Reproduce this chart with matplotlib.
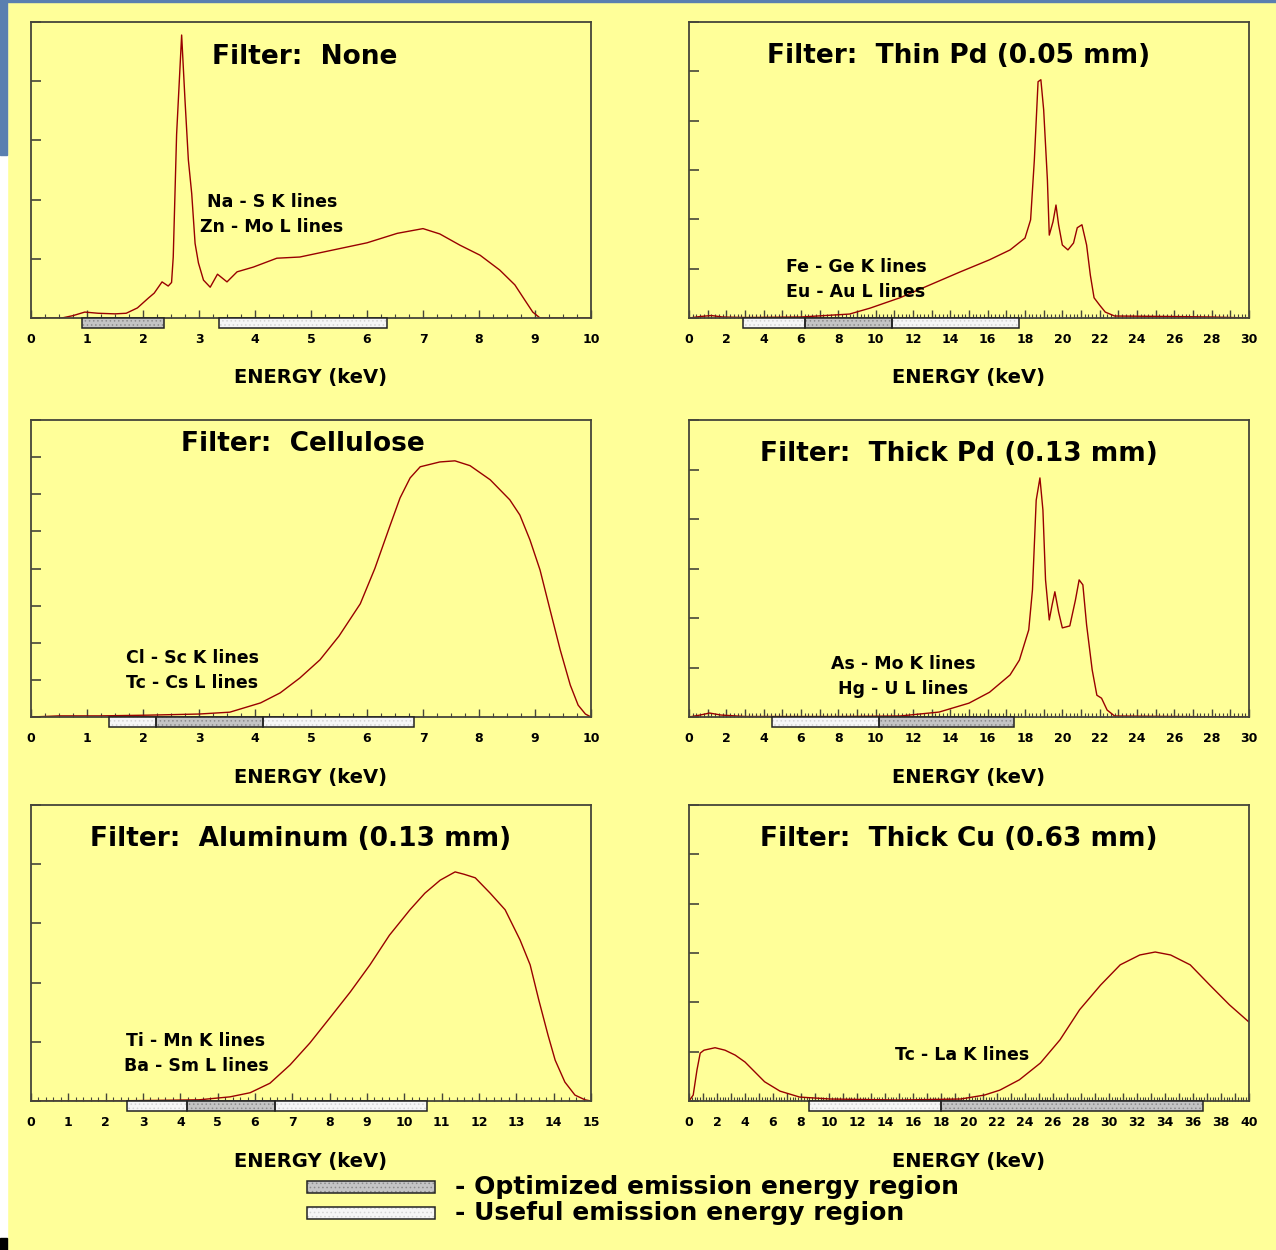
import matplotlib
matplotlib.use("Agg")
import matplotlib.pyplot as plt
from matplotlib.patches import Rectangle
from matplotlib.ticker import MultipleLocator, FuncFormatter

# ---- data (energy in keV, counts in y-tick units) ----
none_e = [0.0, 0.55, 0.75, 0.96, 1.2, 1.5, 1.7, 1.9, 2.1, 2.2, 2.34, 2.45, 2.51, 2.54,
          2.6, 2.69, 2.75, 2.81, 2.87, 2.93, 2.99, 3.08, 3.2, 3.33, 3.5, 3.68, 3.97,
          4.39, 4.8, 5.4, 6.0, 6.54, 7.0, 7.3, 7.66, 8.02, 8.37, 8.64, 8.82, 8.96,
          9.09, 10.0]
none_c = [0.0, 0.0, 0.04, 0.1, 0.08, 0.07, 0.08, 0.17, 0.34, 0.42, 0.61, 0.54, 0.6, 1.03,
          3.1, 4.78, 3.68, 2.67, 2.1, 1.26, 0.93, 0.64, 0.52, 0.74, 0.61, 0.78, 0.86,
          1.01, 1.03, 1.15, 1.27, 1.43, 1.51, 1.42, 1.23, 1.06, 0.81, 0.56, 0.3, 0.1,
          0.0, 0.0]

thinpd_e = [0.0, 0.6, 1.2, 1.8, 3.0, 6.0, 8.6, 9.7, 11.3, 12.9, 14.5, 16.1, 17.2, 18.0,
            18.3, 18.5, 18.7, 18.85, 19.0, 19.2, 19.3, 19.5, 19.66, 19.8, 20.0, 20.3,
            20.6, 20.8, 21.05, 21.3, 21.5, 21.7, 22.0, 22.3, 22.8, 26.0, 28.0, 30.0]
thinpd_c = [0.0, 0.03, 0.05, 0.02, 0.01, 0.02, 0.08, 0.2, 0.41, 0.67, 0.93, 1.18, 1.38, 1.62,
            1.99, 3.2, 4.79, 4.83, 4.22, 2.8, 1.68, 1.95, 2.29, 1.89, 1.48, 1.38,
            1.52, 1.83, 1.89, 1.48, 0.87, 0.41, 0.26, 0.12, 0.04, 0.03, 0.02, 0.0]

cell_e = [0.0, 0.5, 1.23, 2.1, 3.0, 3.55, 4.1, 4.45, 4.8, 5.16, 5.5, 5.88, 6.14, 6.41,
          6.59, 6.77, 6.95, 7.3, 7.57, 7.84, 8.2, 8.55, 8.73, 8.91, 9.09, 9.27, 9.45,
          9.63, 9.77, 9.9, 10.0]
cell_c = [0.0, 0.03, 0.03, 0.05, 0.08, 0.13, 0.38, 0.65, 1.05, 1.54, 2.18, 3.05, 4.0, 5.15,
          5.9, 6.44, 6.74, 6.87, 6.9, 6.77, 6.39, 5.85, 5.44, 4.77, 3.96, 2.88, 1.81,
          0.86, 0.32, 0.08, 0.0]

thickpd_e = [0.0, 0.6, 1.1, 1.7, 3.0, 8.0, 11.3, 13.4, 15.0, 16.1, 17.2, 17.7, 18.2, 18.4,
             18.6, 18.8, 18.96, 19.1, 19.3, 19.45, 19.6, 19.8, 20.0, 20.4, 20.7, 20.9,
             21.1, 21.3, 21.6, 21.85, 22.1, 22.4, 22.8, 26.0, 30.0]
thickpd_c = [0.0, 0.04, 0.08, 0.04, 0.01, 0.01, 0.02, 0.1, 0.28, 0.5, 0.85, 1.15, 1.76, 2.57,
             4.38, 4.83, 4.18, 2.77, 1.96, 2.26, 2.53, 2.12, 1.8, 1.84, 2.36, 2.77,
             2.67, 1.86, 0.95, 0.44, 0.38, 0.14, 0.02, 0.01, 0.0]

alu_e = [0.0, 2.0, 4.5, 5.33, 5.87, 6.4, 6.94, 7.47, 8.0, 8.55, 9.08, 9.6, 10.15, 10.55,
         10.96, 11.36, 11.6, 11.9, 12.3, 12.7, 13.1, 13.37, 13.6, 13.85, 14.04, 14.3,
         14.57, 14.84, 15.0]
alu_c = [0.0, 0.0, 0.02, 0.07, 0.14, 0.3, 0.61, 0.98, 1.4, 1.84, 2.3, 2.8, 3.23, 3.51,
         3.73, 3.87, 3.83, 3.77, 3.51, 3.23, 2.72, 2.3, 1.71, 1.11, 0.69, 0.32,
         0.1, 0.02, 0.0]

cu_e = [0.0, 0.3, 0.57, 0.8, 1.07, 1.86, 2.57, 3.3, 4.0, 4.7, 5.4, 6.5, 7.9, 10.1, 15.0,
        19.4, 21.1, 22.2, 23.6, 25.1, 26.5, 27.9, 29.4, 30.8, 32.2, 33.3, 34.4, 35.8,
        37.2, 38.6, 40.0]
cu_c = [0.0, 0.12, 0.63, 0.97, 1.03, 1.08, 1.03, 0.93, 0.79, 0.59, 0.39, 0.2, 0.08, 0.04, 0.02,
        0.04, 0.12, 0.22, 0.43, 0.77, 1.24, 1.85, 2.35, 2.76, 2.96, 3.02, 2.96, 2.76,
        2.35, 1.95, 1.6]

# bars under the axis: (start, end) in keV
useful = [[(3.36, 6.36)], [(2.9, 6.2), (10.9, 17.7)], [(1.40, 2.23), (4.14, 6.84)],
          [(4.45, 10.2)], [(2.57, 4.18), (6.54, 10.6)], [(8.57, 18.0)]]
optimized = [[(0.91, 2.38)], [(6.2, 10.9)], [(2.23, 4.14)],
             [(10.2, 17.4)], [(4.18, 6.54)], [(18.0, 36.7)]]

titles = ["Filter:  None", "Filter:  Thin Pd (0.05 mm)", "Filter:  Cellulose",
          "Filter:  Thick Pd (0.13 mm)", "Filter:  Aluminum (0.13 mm)",
          "Filter:  Thick Cu (0.63 mm)"]
notes = [["Na - S K lines", "Zn - Mo L lines"], ["Fe - Ge K lines", "Eu - Au L lines"],
         ["Cl - Sc K lines", "Tc - Cs L lines"], ["As - Mo K lines", "Hg - U L lines"],
         ["Ti - Mn K lines", "Ba - Sm L lines"], ["Tc - La K lines"]]
xmax = [10, 30, 10, 30, 15, 40]
ymax = [5, 6, 8, 6, 5, 6]
energies = [none_e, thinpd_e, cell_e, thickpd_e, alu_e, cu_e]
counts = [none_c, thinpd_c, cell_c, thickpd_c, alu_c, cu_c]

# ---- layout (pixels of the 1276x1250 picture) ----
W, H = 1276, 1250
BG = "#ffff99"
RED = "#990000"
lefts = [31, 689, 31, 689, 31, 689]
tops = [22, 22, 420, 420, 805, 805]
bottoms = [318, 318, 717, 717, 1101, 1101]
title_xy = [(305, 57), (959, 56), (303, 444), (959, 454), (301, 839), (959, 839)]
note_xy = [(272, 202), (856, 267), (192, 658), (903, 664), (196, 1041), (962, 1055)]
minor_step = [0.25, 0.2, 0.25, 0.2, 0.2, 0.2]
major_step = [1, 1, 1, 1, 1, 1]
label_every = [1, 2, 1, 2, 1, 2]

plt.rcParams["font.family"] = "DejaVu Sans"
plt.rcParams["font.weight"] = "bold"
plt.rcParams["hatch.linewidth"] = 0.6

fig = plt.figure(figsize=(W / 100, H / 100), dpi=100, facecolor=BG)


def fx(px):
    return px / W


def fy(py):
    return 1 - py / H


# page decorations at the left edge
fig.add_artist(Rectangle((0, 0), fx(7), 1, transform=fig.transFigure, color="white", zorder=0))
fig.add_artist(Rectangle((0, fy(155)), fx(7), 155 / H, transform=fig.transFigure,
                         color="#5a7fb0", zorder=1))
fig.add_artist(Rectangle((0, fy(1.5)), 1, 1.5 / H, transform=fig.transFigure,
                         color="#5a7fb0", zorder=1))
fig.add_artist(Rectangle((0, 0), fx(7), 12 / H, transform=fig.transFigure, color="black", zorder=1))


def draw_bar(ax, x0, x1, kind, h):
    tr = ax.get_xaxis_transform()
    if kind == "opt":
        fc, hc = "#c4c4c4", "#8c8c8c"
    else:
        fc, hc = "#f6f6f6", "#d4d4d4"
    ax.add_patch(Rectangle((x0, -h), x1 - x0, h, transform=tr, facecolor=fc,
                           edgecolor=hc, hatch="....", linewidth=0, clip_on=False, zorder=3))
    ax.add_patch(Rectangle((x0, -h), x1 - x0, h, transform=tr, fill=False,
                           edgecolor="#222222", linewidth=1.1, clip_on=False, zorder=4))


for i in range(6):
    axh = bottoms[i] - tops[i]
    ax = fig.add_axes([fx(lefts[i]), fy(bottoms[i]), 560 / W, axh / H])
    ax.set_facecolor(BG)
    ax.plot(energies[i], counts[i], color=RED, linewidth=1.0, zorder=2)
    ax.set_xlim(0, xmax[i])
    ax.set_ylim(0, ymax[i])

    for s in ax.spines.values():
        s.set_color("#45453a")
        s.set_linewidth(1.3)

    ax.xaxis.set_major_locator(MultipleLocator(major_step[i]))
    ax.xaxis.set_minor_locator(MultipleLocator(minor_step[i]))
    n = label_every[i]
    ax.xaxis.set_major_formatter(FuncFormatter(
        lambda v, p, n=n: "%d" % round(v) if round(v) % n == 0 else ""))
    ax.yaxis.set_major_locator(MultipleLocator(1))
    ax.tick_params(axis="x", which="major", direction="in", length=6, width=1.0,
                   color="#45453a", pad=11, labelsize=9)
    ax.tick_params(axis="x", which="minor", direction="in", length=3, width=0.8,
                   color="#45453a")
    ax.tick_params(axis="y", which="major", direction="in", length=7, width=1.2,
                   color="#45453a", labelleft=False)
    for lab in ax.get_xticklabels():
        lab.set_fontweight("bold")

    bh = 10 / axh
    for a, b in useful[i]:
        draw_bar(ax, a, b, "use", bh)
    for a, b in optimized[i]:
        draw_bar(ax, a, b, "opt", bh)

    ax.text(0.5, -(bottoms[i] + 60 - bottoms[i]) / axh, "ENERGY (keV)", transform=ax.transAxes,
            ha="center", va="center", fontsize=14, fontweight="bold")

    tx, ty = title_xy[i]
    fig.text(fx(tx), fy(ty), titles[i], ha="center", va="center", fontsize=19,
             fontweight="bold")
    nx, ny = note_xy[i]
    for k, line in enumerate(notes[i]):
        fig.text(fx(nx), fy(ny + 25 * k), line, ha="center", va="center", fontsize=12.5,
                 fontweight="bold")

# legend at the bottom
leg_rows = [("opt", "- Optimized emission energy region", 1187),
            ("use", "- Useful emission energy region", 1213)]
for kind, label, yc in leg_rows:
    fc, hc = ("#c4c4c4", "#8c8c8c") if kind == "opt" else ("#f6f6f6", "#d4d4d4")
    fig.add_artist(Rectangle((fx(307), fy(yc + 6)), 128 / W, 12 / H, transform=fig.transFigure,
                             facecolor=fc, edgecolor=hc, hatch="....", linewidth=0))
    fig.add_artist(Rectangle((fx(307), fy(yc + 6)), 128 / W, 12 / H, transform=fig.transFigure,
                             fill=False, edgecolor="#222222", linewidth=1.1))
    fig.text(fx(455), fy(yc), label, ha="left", va="center", fontsize=18, fontweight="bold")

fig.savefig("out.png", dpi=100, facecolor=BG)
